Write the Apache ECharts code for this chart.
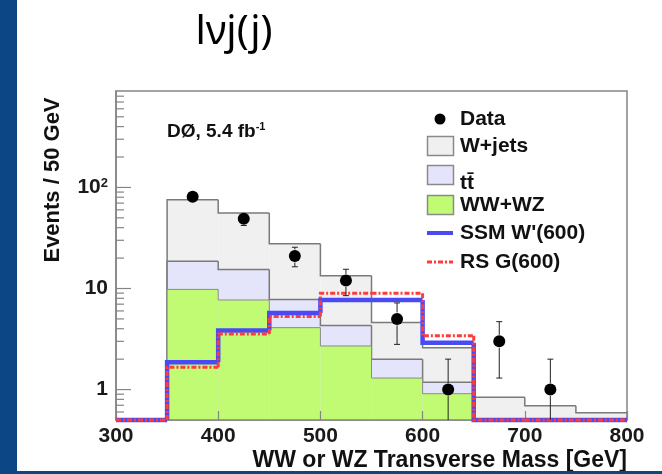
<!DOCTYPE html>
<html>
<head>
<meta charset="utf-8">
<script src="https://cdn.jsdelivr.net/npm/echarts@6/dist/echarts.min.js"></script>
<style>
  html, body { margin: 0; padding: 0; background: #ffffff; }
  #chart { width: 662px; height: 474px; }
</style>
</head>
<body>
<div id="chart"></div>
<script>
// Bin edges of the transverse-mass histogram (GeV), 50 GeV bins
const binEdges = [300, 350, 400, 450, 500, 550, 600, 650, 700, 750, 800];

// Background contributions per bin (events / 50 GeV)
const wwwz  = [0, 9.8, 7.7, 4.1, 2.7, 1.3, 0.91, 0, 0, 0];
const ttbar = [0, 8.8, 7.7, 3.7, 1.6, 0.7, 0.27, 0, 0, 0];
const wjets = [0, 56.9, 40.6, 19.9, 9.1, 2.6, 1.42, 0.84, 0.69, 0.59];

// Signal templates
const ssmW600 = [0, 1.86, 3.84, 5.74, 7.7, 7.7, 2.9, 0, 0, 0];
const rsG600  = [0, 1.66, 3.55, 5.3, 9.0, 9.0, 3.4, 0, 0, 0];

// Observed data and statistical uncertainties
const dataCounts = [0, 81, 49, 21, 12, 5, 1, 3, 1, 0];
const dataErrors = [0, 9, 7, 4.6, 3.5, 2.2, 1, 1.7, 1, 0];

// Axis ticks
const xTicks = [300, 400, 500, 600, 700, 800];
const yMajorTicks = [1, 10, 100];
const yMinorTicks = [0.6, 0.7, 0.8, 0.9, 2, 3, 4, 5, 6, 7, 8, 9,
                     20, 30, 40, 50, 60, 70, 80, 90, 200, 300, 400, 500, 600, 700, 800];

const X_MIN = 300, X_MAX = 800;
const Y_MIN = 0.5, Y_MAX = 900;
const FONT = '"Liberation Sans", Arial, Helvetica, sans-serif';
const AXIS_GRAY = '#858585';
const MARKER_SIZE = 12;

// Stacked totals: WW+WZ at the bottom, then ttbar, then W+jets on top
const stackWW = wwwz.slice();
const stackTT = wwwz.map((v, i) => v + ttbar[i]);
const stackAll = stackTT.map((v, i) => v + wjets[i]);

const centers = binEdges.slice(0, -1).map((e, i) => (e + binEdges[i + 1]) / 2);

// Step histogram drawn bin by bin: fill below the value, outline on top
function histSeries(name, values, opt) {
  const n = values.length;
  const items = values.map((v, i) => [binEdges[i], binEdges[i + 1], v, i > 0 ? values[i - 1] : 0, i === n - 1 ? 1 : 0]);
  return {
    type: 'custom',
    name: name,
    coordinateSystem: 'cartesian2d',
    clip: opt.clip !== false,
    silent: true,
    z: opt.z || 2,
    encode: { x: [0, 1], y: 2 },
    data: items,
    renderItem: function (params, api) {
      const lo = api.value(0), hi = api.value(1);
      const v = Math.max(api.value(2), Y_MIN);
      const vp = Math.max(api.value(3), Y_MIN);
      const pLo = api.coord([lo, v]);
      const pHi = api.coord([hi, v]);
      const base = api.coord([lo, Y_MIN])[1];
      const prevY = api.coord([lo, vp])[1];
      const children = [];
      if (opt.fill && api.value(2) > Y_MIN) {
        children.push({
          type: 'rect', z2: 0,
          shape: { x: pLo[0], y: pLo[1], width: pHi[0] - pLo[0], height: base - pLo[1] },
          style: { fill: opt.fill }
        });
      }
      const pts = [[pLo[0], prevY], [pLo[0], pLo[1]], [pHi[0], pHi[1]]];
      if (api.value(4)) pts.push([pHi[0], base]);
      children.push({
        type: 'polyline', z2: 1,
        shape: { points: pts },
        style: { stroke: opt.stroke, lineWidth: opt.width, lineDash: opt.dash || null, fill: null, lineCap: 'butt', lineJoin: 'miter' }
      });
      return { type: 'group', children: children };
    }
  };
}

// Inward tick marks on the logarithmic y axis, placed through the axis scale
function yTickSeries(values, len) {
  return {
    type: 'custom',
    coordinateSystem: 'cartesian2d',
    silent: true,
    clip: false,
    z: 20,
    encode: { y: 0 },
    data: values.map(v => [v]),
    renderItem: function (params, api) {
      const p = api.coord([X_MIN, api.value(0)]);
      return {
        type: 'line',
        shape: { x1: p[0], y1: p[1], x2: p[0] + len, y2: p[1] },
        style: { stroke: AXIS_GRAY, lineWidth: 1.2 }
      };
    }
  };
}

// Data error bars with small end caps (caps hidden when inside the marker)
const errorItems = centers.map((c, i) => [c, dataCounts[i], dataErrors[i]]).filter(d => d[1] > 0);
const errorSeries = {
  type: 'custom',
  name: 'DataErr',
  coordinateSystem: 'cartesian2d',
  clip: true,
  silent: true,
  z: 28,
  encode: { x: 0, y: 1 },
  data: errorItems,
  renderItem: function (params, api) {
    const x = api.value(0), v = api.value(1), e = api.value(2);
    const hiV = v + e, loV = v - e;
    const pC = api.coord([x, v]);
    const pHi = api.coord([x, hiV]);
    const pLo = api.coord([x, Math.max(loV, Y_MIN)]);
    const cap = 3;
    const r = MARKER_SIZE / 2 + 0.5;
    const st = { stroke: '#222', lineWidth: 1 };
    const ch = [];
    if (pC[1] - pHi[1] > r) {
      ch.push({ type: 'line', shape: { x1: pHi[0], y1: pHi[1], x2: pC[0], y2: pC[1] - r }, style: st });
      ch.push({ type: 'line', shape: { x1: pHi[0] - cap, y1: pHi[1], x2: pHi[0] + cap, y2: pHi[1] }, style: st });
    }
    if (pLo[1] - pC[1] > r) {
      ch.push({ type: 'line', shape: { x1: pC[0], y1: pC[1] + r, x2: pLo[0], y2: pLo[1] }, style: st });
      if (loV > Y_MIN) {
        ch.push({ type: 'line', shape: { x1: pLo[0] - cap, y1: pLo[1], x2: pLo[0] + cap, y2: pLo[1] }, style: st });
      }
    }
    return { type: 'group', children: ch };
  }
};

const dataPoints = centers.map((c, i) => [c, dataCounts[i]]).filter(d => d[1] > 0);

const chart = echarts.init(document.getElementById('chart'), null, { renderer: 'canvas' });

const labelStyle = { color: '#1a1a1a', fontFamily: FONT, fontWeight: 'bold', fontSize: 21 };

const legendRows = [
  { y: 119, kind: 'dot', text: 'Data' },
  { y: 146, kind: 'box', fill: '#f0f0f0', text: 'W+jets' },
  { y: 175, kind: 'box', fill: '#e4e4fa', text: 'tt\u0304', textDy: 8 },
  { y: 205, kind: 'box', fill: '#c1fb73', text: 'WW+WZ' },
  { y: 233, kind: 'line', color: '#4a4af5', text: "SSM W'(600)" },
  { y: 262, kind: 'dash', color: '#ff3b3b', text: 'RS G(600)' }
];
const legendGraphics = [];
legendRows.forEach(r => {
  if (r.kind === 'dot') {
    legendGraphics.push({ type: 'circle', shape: { cx: 440, cy: r.y, r: 5.5 }, style: { fill: '#000' } });
  } else if (r.kind === 'box') {
    legendGraphics.push({ type: 'rect', shape: { x: 427.5, y: r.y - 9.5, width: 26, height: 19 }, style: { fill: r.fill, stroke: '#8a8a8a', lineWidth: 1.5 } });
  } else if (r.kind === 'line') {
    legendGraphics.push({ type: 'line', shape: { x1: 427, y1: r.y, x2: 453, y2: r.y }, style: { stroke: r.color, lineWidth: 4 } });
  } else {
    legendGraphics.push({ type: 'line', shape: { x1: 427, y1: r.y, x2: 453, y2: r.y }, style: { stroke: r.color, lineWidth: 3, lineDash: [5, 2, 2, 2] } });
  }
  legendGraphics.push({
    type: 'text', x: 460, y: r.y + (r.textDy || 0),
    style: { text: r.text, fill: '#111', font: 'bold 21px ' + FONT, verticalAlign: 'middle', align: 'left' }
  });
});

const option = {
  animation: false,
  backgroundColor: '#ffffff',
  grid: { left: 116, right: 35, top: 91, bottom: 54, show: true, borderColor: AXIS_GRAY, borderWidth: 1.5, backgroundColor: 'transparent' },
  xAxis: {
    type: 'value', min: X_MIN, max: X_MAX, interval: 100,
    z: 20,
    axisLine: { show: true, lineStyle: { color: AXIS_GRAY, width: 1.5 } },
    axisTick: { show: true, inside: true, length: 9, lineStyle: { color: AXIS_GRAY, width: 1.2 } },
    axisLabel: Object.assign({ margin: 6, customValues: xTicks }, labelStyle),
    splitLine: { show: false },
    name: 'WW or WZ Transverse Mass [GeV]',
    nameLocation: 'end',
    nameGap: 0,
    nameTextStyle: { color: '#111', fontFamily: FONT, fontWeight: 'bold', fontSize: 23, align: 'right', verticalAlign: 'top', padding: [29, 0, 0, 0] }
  },
  yAxis: {
    type: 'log', logBase: 10, min: Y_MIN, max: Y_MAX,
    z: 20,
    axisLine: { show: true, lineStyle: { color: AXIS_GRAY, width: 1.5 } },
    axisTick: { show: false },
    axisLabel: Object.assign({
      margin: 8, customValues: yMajorTicks,
      formatter: function (v) { return v >= 100 ? '10{sup|2}' : String(Math.round(v)); },
      rich: { sup: { fontFamily: FONT, fontWeight: 'bold', fontSize: 13, color: '#1a1a1a', padding: [0, 0, 9, 0] } }
    }, labelStyle),
    splitLine: { show: false }
  },
  series: [
    histSeries('W+jets', stackAll, { fill: '#f0f0f0', stroke: '#7a7a7a', width: 1.5, z: 2 }),
    histSeries('ttbar', stackTT, { fill: '#e4e4fa', stroke: '#7a7a7a', width: 1.5, z: 3 }),
    histSeries('WW+WZ', stackWW, { fill: '#c1fb73', stroke: '#8a8a8a', width: 1, z: 4 }),
    yTickSeries(yMajorTicks, 15),
    yTickSeries(yMinorTicks, 8),
    histSeries("SSM W'(600)", ssmW600, { stroke: '#4a4af5', width: 4.5, clip: false, z: 26 }),
    histSeries('RS G(600)', rsG600, { stroke: '#ff3b3b', width: 3, dash: [5, 2, 2, 2], clip: false, z: 27 }),
    errorSeries,
    {
      type: 'scatter', name: 'Data', data: dataPoints, symbol: 'circle', symbolSize: MARKER_SIZE,
      itemStyle: { color: '#000', opacity: 1 }, z: 29, silent: true
    }
  ],
  graphic: [
    // slide decoration
    { type: 'rect', shape: { x: 0, y: 0, width: 17, height: 474 }, style: { fill: '#0d4685' }, z: 100 },
    { type: 'rect', shape: { x: 0, y: 471, width: 662, height: 3 }, style: { fill: '#0d4685' }, z: 100 },
    // slide heading
    { type: 'text', x: 234, y: 33, style: { text: 'l\u03BDj(j)', fill: '#000', font: '40px "Noto Sans", sans-serif', align: 'center', verticalAlign: 'middle' }, z: 100 },
    // y-axis title
    { type: 'text', x: 53, y: 180, rotation: Math.PI / 2, style: { text: 'Events / 50 GeV', fill: '#111', font: 'bold 22px ' + FONT, align: 'center', verticalAlign: 'middle' }, z: 100 },
    // experiment label
    {
      type: 'text', x: 167, y: 132, z: 100,
      style: {
        text: 'D\u00D8, 5.4 fb{sup|-1}', fill: '#111', font: 'bold 19px ' + FONT, verticalAlign: 'middle',
        rich: { sup: { fontSize: 11, fontWeight: 'bold', fontFamily: FONT, fill: '#111', padding: [0, 0, 10, 0] } }
      }
    }
  ].concat(legendGraphics.map(g => Object.assign({ z: 100 }, g)))
};

chart.setOption(option);
</script>
</body>
</html>
